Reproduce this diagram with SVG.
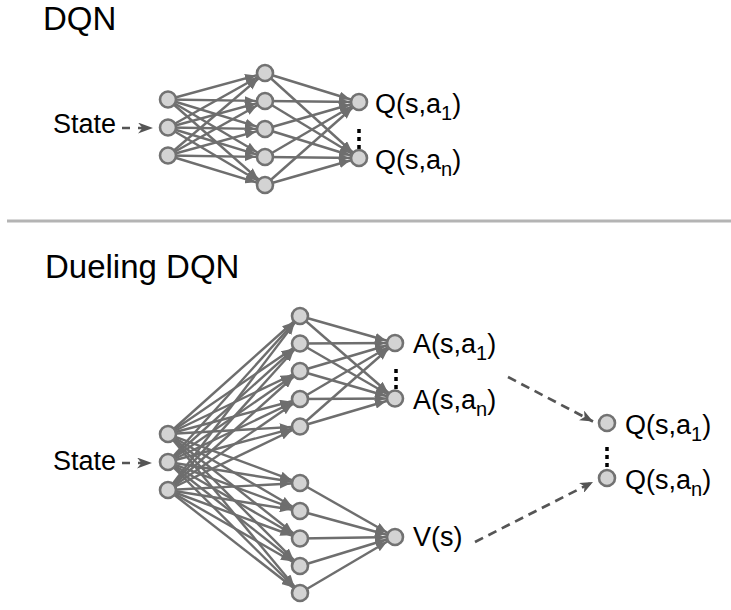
<svg xmlns="http://www.w3.org/2000/svg" width="731" height="610" viewBox="0 0 731 610">
<style>
.title{font-family:"Liberation Sans",Arial,sans-serif;font-size:33px;fill:#000}
.lbl{font-family:"Liberation Sans",Arial,sans-serif;font-size:27px;fill:#000}
.sub{font-size:20px}
.node circle{fill:#d3d3d3;stroke:#727272;stroke-width:2.6}
.edge line{stroke:#6e6e6e;stroke-width:2.4;marker-end:url(#ah)}
.dash{stroke:#555;stroke-width:2.7;stroke-dasharray:9 6;fill:none;marker-end:url(#dh)}
.inarrow{stroke:#555;stroke-width:2.7;stroke-dasharray:8 8;fill:none;marker-end:url(#ch)}
.dots{stroke:#000;stroke-width:3.5;stroke-dasharray:4 4}
</style>
<defs>
<marker id="ah" markerUnits="userSpaceOnUse" viewBox="0 0 11 9" markerWidth="11" markerHeight="9" refX="20.3" refY="4.5" orient="auto">
<path d="M0,0 L11,4.5 L0,9 z" fill="#6e6e6e"/>
</marker>
<marker id="dh" markerUnits="userSpaceOnUse" viewBox="0 0 13 11" markerWidth="13" markerHeight="11" refX="13" refY="5.5" orient="auto">
<path d="M0,0 L13,5.5 L0,11 L3.5,5.5 z" fill="#555"/>
</marker>
<marker id="ch" markerUnits="userSpaceOnUse" viewBox="0 0 15 11" markerWidth="15" markerHeight="11" refX="15" refY="5.5" orient="auto">
<path d="M0,0 L15,5.5 L0,11 L4.5,5.5 z" fill="#555"/>
</marker>
</defs>

<rect width="731" height="610" fill="#fff"/>

<text class="title" x="43" y="30">DQN</text>
<line x1="7" y1="221" x2="731" y2="221" stroke="#b4b4b4" stroke-width="3"/>
<text class="title" x="45" y="278">Dueling DQN</text>

<g id="connectors">
<g class="edge">
<line x1="168" y1="99.5" x2="265" y2="73"/><line x1="168" y1="99.5" x2="265" y2="101"/><line x1="168" y1="99.5" x2="265" y2="129"/><line x1="168" y1="99.5" x2="265" y2="157"/><line x1="168" y1="99.5" x2="265" y2="185"/>
<line x1="168" y1="127.5" x2="265" y2="73"/><line x1="168" y1="127.5" x2="265" y2="101"/><line x1="168" y1="127.5" x2="265" y2="129"/><line x1="168" y1="127.5" x2="265" y2="157"/><line x1="168" y1="127.5" x2="265" y2="185"/>
<line x1="168" y1="155.5" x2="265" y2="73"/><line x1="168" y1="155.5" x2="265" y2="101"/><line x1="168" y1="155.5" x2="265" y2="129"/><line x1="168" y1="155.5" x2="265" y2="157"/><line x1="168" y1="155.5" x2="265" y2="185"/>
<line x1="265" y1="73" x2="359" y2="102"/><line x1="265" y1="101" x2="359" y2="102"/><line x1="265" y1="129" x2="359" y2="102"/><line x1="265" y1="157" x2="359" y2="102"/><line x1="265" y1="185" x2="359" y2="102"/>
<line x1="265" y1="73" x2="359" y2="158"/><line x1="265" y1="101" x2="359" y2="158"/><line x1="265" y1="129" x2="359" y2="158"/><line x1="265" y1="157" x2="359" y2="158"/><line x1="265" y1="185" x2="359" y2="158"/>
<line x1="168" y1="434" x2="300" y2="316"/><line x1="168" y1="434" x2="300" y2="343.5"/><line x1="168" y1="434" x2="300" y2="371"/><line x1="168" y1="434" x2="300" y2="399"/><line x1="168" y1="434" x2="300" y2="426.5"/>
<line x1="168" y1="462" x2="300" y2="316"/><line x1="168" y1="462" x2="300" y2="343.5"/><line x1="168" y1="462" x2="300" y2="371"/><line x1="168" y1="462" x2="300" y2="399"/><line x1="168" y1="462" x2="300" y2="426.5"/>
<line x1="168" y1="490" x2="300" y2="316"/><line x1="168" y1="490" x2="300" y2="343.5"/><line x1="168" y1="490" x2="300" y2="371"/><line x1="168" y1="490" x2="300" y2="399"/><line x1="168" y1="490" x2="300" y2="426.5"/>
<line x1="168" y1="434" x2="300" y2="483"/><line x1="168" y1="434" x2="300" y2="511"/><line x1="168" y1="434" x2="300" y2="538.5"/><line x1="168" y1="434" x2="300" y2="566"/><line x1="168" y1="434" x2="300" y2="593"/>
<line x1="168" y1="462" x2="300" y2="483"/><line x1="168" y1="462" x2="300" y2="511"/><line x1="168" y1="462" x2="300" y2="538.5"/><line x1="168" y1="462" x2="300" y2="566"/><line x1="168" y1="462" x2="300" y2="593"/>
<line x1="168" y1="490" x2="300" y2="483"/><line x1="168" y1="490" x2="300" y2="511"/><line x1="168" y1="490" x2="300" y2="538.5"/><line x1="168" y1="490" x2="300" y2="566"/><line x1="168" y1="490" x2="300" y2="593"/>
<line x1="300" y1="316" x2="395" y2="343"/><line x1="300" y1="343.5" x2="395" y2="343"/><line x1="300" y1="371" x2="395" y2="343"/><line x1="300" y1="399" x2="395" y2="343"/><line x1="300" y1="426.5" x2="395" y2="343"/>
<line x1="300" y1="316" x2="395" y2="398.5"/><line x1="300" y1="343.5" x2="395" y2="398.5"/><line x1="300" y1="371" x2="395" y2="398.5"/><line x1="300" y1="399" x2="395" y2="398.5"/><line x1="300" y1="426.5" x2="395" y2="398.5"/>
<line x1="300" y1="483" x2="395" y2="537"/><line x1="300" y1="511" x2="395" y2="537"/><line x1="300" y1="538.5" x2="395" y2="537"/><line x1="300" y1="566" x2="395" y2="537"/><line x1="300" y1="593" x2="395" y2="537"/>
</g>
<line class="inarrow" x1="122" y1="128" x2="153" y2="128"/>
<line class="inarrow" x1="122" y1="463" x2="152" y2="463"/>
<line class="dash" x1="508" y1="377" x2="593" y2="421.5"/>
<line class="dash" x1="475" y1="542" x2="593" y2="482"/>
<line class="dots" x1="359" y1="129" x2="359" y2="150"/>
<line class="dots" x1="396" y1="369" x2="396" y2="390"/>
<line class="dots" x1="607" y1="447" x2="607" y2="469"/>
</g>

<text class="lbl" x="53" y="133">State</text>
<text class="lbl" x="53" y="470">State</text>

<g id="dqn-in1" class="node"><circle cx="168" cy="99.5" r="8"/></g>
<g id="dqn-in2" class="node"><circle cx="168" cy="127.5" r="8"/></g>
<g id="dqn-in3" class="node"><circle cx="168" cy="155.5" r="8"/></g>
<g id="dqn-h1" class="node"><circle cx="265" cy="73" r="8"/></g>
<g id="dqn-h2" class="node"><circle cx="265" cy="101" r="8"/></g>
<g id="dqn-h3" class="node"><circle cx="265" cy="129" r="8"/></g>
<g id="dqn-h4" class="node"><circle cx="265" cy="157" r="8"/></g>
<g id="dqn-h5" class="node"><circle cx="265" cy="185" r="8"/></g>
<g id="dqn-q1" class="node"><circle cx="359" cy="102" r="8"/><text class="lbl" x="375" y="113">Q(s,a<tspan class="sub" dy="6.5">1</tspan><tspan dy="-6.5">)</tspan></text></g>
<g id="dqn-qn" class="node"><circle cx="359" cy="158" r="8"/><text class="lbl" x="375" y="169">Q(s,a<tspan class="sub" dy="6.5">n</tspan><tspan dy="-6.5">)</tspan></text></g>

<g id="duel-in1" class="node"><circle cx="168" cy="434" r="8"/></g>
<g id="duel-in2" class="node"><circle cx="168" cy="462" r="8"/></g>
<g id="duel-in3" class="node"><circle cx="168" cy="490" r="8"/></g>
<g id="duel-a-h1" class="node"><circle cx="300" cy="316" r="8"/></g>
<g id="duel-a-h2" class="node"><circle cx="300" cy="343.5" r="8"/></g>
<g id="duel-a-h3" class="node"><circle cx="300" cy="371" r="8"/></g>
<g id="duel-a-h4" class="node"><circle cx="300" cy="399" r="8"/></g>
<g id="duel-a-h5" class="node"><circle cx="300" cy="426.5" r="8"/></g>
<g id="duel-v-h1" class="node"><circle cx="300" cy="483" r="8"/></g>
<g id="duel-v-h2" class="node"><circle cx="300" cy="511" r="8"/></g>
<g id="duel-v-h3" class="node"><circle cx="300" cy="538.5" r="8"/></g>
<g id="duel-v-h4" class="node"><circle cx="300" cy="566" r="8"/></g>
<g id="duel-v-h5" class="node"><circle cx="300" cy="593" r="8"/></g>
<g id="duel-a1" class="node"><circle cx="395" cy="343" r="8"/><text class="lbl" x="413" y="353">A(s,a<tspan class="sub" dy="6.5">1</tspan><tspan dy="-6.5">)</tspan></text></g>
<g id="duel-an" class="node"><circle cx="395" cy="398.5" r="8"/><text class="lbl" x="413" y="409">A(s,a<tspan class="sub" dy="6.5">n</tspan><tspan dy="-6.5">)</tspan></text></g>
<g id="duel-v" class="node"><circle cx="395" cy="537" r="8"/><text class="lbl" x="413" y="546">V(s)</text></g>
<g id="duel-q1" class="node"><circle cx="607" cy="423" r="8"/><text class="lbl" x="625" y="434">Q(s,a<tspan class="sub" dy="6.5">1</tspan><tspan dy="-6.5">)</tspan></text></g>
<g id="duel-qn" class="node"><circle cx="607" cy="478" r="8"/><text class="lbl" x="625" y="489">Q(s,a<tspan class="sub" dy="6.5">n</tspan><tspan dy="-6.5">)</tspan></text></g>
</svg>
